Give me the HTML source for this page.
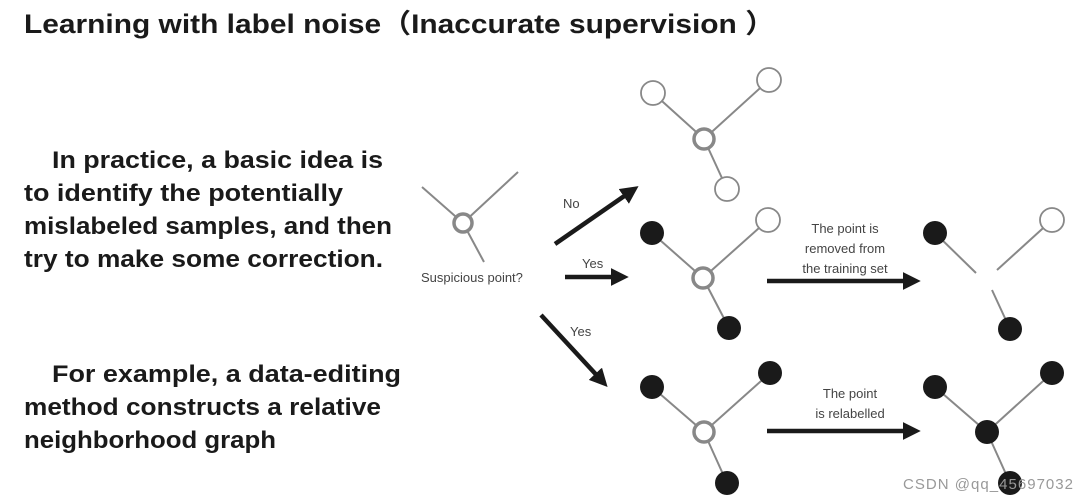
<!DOCTYPE html>
<html><head><meta charset="utf-8"><style>
html,body{margin:0;padding:0;background:#fff;width:1088px;height:501px;overflow:hidden}
svg{display:block}
.b{font-family:"Liberation Sans","Noto Sans CJK SC",sans-serif;font-weight:bold;fill:#1a1a1a}
.s{font-family:"Liberation Sans",sans-serif;fill:#444}
</style></head><body>
<svg width="1088" height="501" viewBox="0 0 1088 501" xmlns="http://www.w3.org/2000/svg">
<defs><marker id="ah" markerWidth="4" markerHeight="4" refX="2.5" refY="2" orient="auto" markerUnits="strokeWidth"><path d="M0,0 L4,2 L0,4 z" fill="#1a1a1a"/></marker></defs>
<text class="b" x="24" y="33" font-size="27" textLength="751" lengthAdjust="spacingAndGlyphs">Learning with label noise（Inaccurate supervision ）</text>
<g class="b" font-size="24">
<text x="52" y="168" textLength="331" lengthAdjust="spacingAndGlyphs">In practice, a basic idea is</text>
<text x="24" y="201" textLength="319" lengthAdjust="spacingAndGlyphs">to identify the potentially</text>
<text x="24" y="234" textLength="368" lengthAdjust="spacingAndGlyphs">mislabeled samples, and then</text>
<text x="24" y="267" textLength="359" lengthAdjust="spacingAndGlyphs">try to make some correction.</text>
<text x="52" y="382" textLength="349" lengthAdjust="spacingAndGlyphs">For example, a data-editing</text>
<text x="24" y="415" textLength="357" lengthAdjust="spacingAndGlyphs">method constructs a relative</text>
<text x="24" y="448" textLength="252" lengthAdjust="spacingAndGlyphs">neighborhood graph</text>
</g>
<g stroke="#888" stroke-width="2" fill="none">
<line x1="463" y1="223" x2="422" y2="187"/><line x1="463" y1="223" x2="518" y2="172"/><line x1="463" y1="223" x2="484" y2="262"/>
<line x1="704" y1="139" x2="653" y2="93"/><line x1="704" y1="139" x2="769" y2="80"/><line x1="704" y1="139" x2="727" y2="189"/>
<line x1="703" y1="278" x2="652" y2="233"/><line x1="703" y1="278" x2="768" y2="220"/><line x1="703" y1="278" x2="729" y2="328"/>
<line x1="935" y1="233" x2="976" y2="273"/><line x1="1052" y1="220" x2="997" y2="270"/><line x1="992" y1="290" x2="1010" y2="329"/>
<line x1="704" y1="432" x2="652" y2="387"/><line x1="704" y1="432" x2="770" y2="373"/><line x1="704" y1="432" x2="727" y2="483"/>
<line x1="987" y1="432" x2="935" y2="387"/><line x1="987" y1="432" x2="1052" y2="373"/><line x1="987" y1="432" x2="1010" y2="483"/>
</g>
<g fill="#fff" stroke="#888">
<circle cx="463" cy="223" r="9" stroke-width="3.5"/>
<circle cx="704" cy="139" r="10" stroke-width="3.5"/>
<circle cx="703" cy="278" r="10" stroke-width="3.5"/>
<circle cx="704" cy="432" r="10" stroke-width="3.5"/>
<circle cx="653" cy="93" r="12" stroke-width="1.8"/>
<circle cx="769" cy="80" r="12" stroke-width="1.8"/>
<circle cx="727" cy="189" r="12" stroke-width="1.8"/>
<circle cx="768" cy="220" r="12" stroke-width="1.8"/>
<circle cx="1052" cy="220" r="12" stroke-width="1.8"/>
</g>
<g fill="#1a1a1a">
<circle cx="652" cy="233" r="12"/><circle cx="729" cy="328" r="12"/>
<circle cx="935" cy="233" r="12"/><circle cx="1010" cy="329" r="12"/>
<circle cx="652" cy="387" r="12"/><circle cx="770" cy="373" r="12"/><circle cx="727" cy="483" r="12"/>
<circle cx="987" cy="432" r="12"/><circle cx="935" cy="387" r="12"/><circle cx="1052" cy="373" r="12"/><circle cx="1010" cy="483" r="12"/>
</g>
<g stroke="#1a1a1a" stroke-width="4.5" fill="none" marker-end="url(#ah)">
<line x1="555" y1="244" x2="633" y2="190"/>
<line x1="565" y1="277" x2="622" y2="277"/>
<line x1="541" y1="315" x2="603" y2="382"/>
<line x1="767" y1="281" x2="914" y2="281"/>
<line x1="767" y1="431" x2="914" y2="431"/>
</g>
<g class="s" font-size="13">
<text x="563" y="208">No</text>
<text x="582" y="268">Yes</text>
<text x="570" y="336">Yes</text>
<text x="421" y="282">Suspicious point?</text>
<g text-anchor="middle"><text x="845" y="233">The point is</text><text x="845" y="253">removed from</text><text x="845" y="273">the training set</text>
<text x="850" y="398">The point</text><text x="850" y="418">is relabelled</text></g>
</g>
<text x="903" y="489" font-family="Liberation Sans,sans-serif" font-size="15" fill="#999" textLength="170">CSDN @qq_45697032</text>
</svg>
</body></html>
